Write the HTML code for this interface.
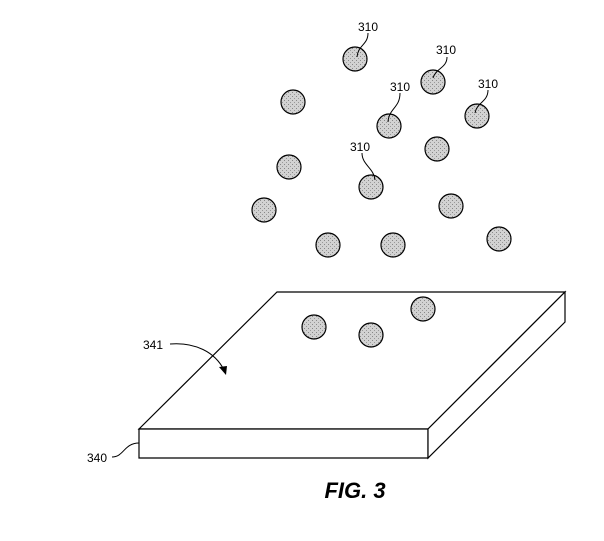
<!DOCTYPE html>
<html><head><style>body{margin:0;background:#fff}svg{display:block}</style></head><body>
<svg width="604" height="541" viewBox="0 0 604 541" xmlns="http://www.w3.org/2000/svg">
<defs>
<pattern id="st" width="4" height="4" patternUnits="userSpaceOnUse">
<rect width="4" height="4" fill="#d2d2d2"/>
<rect x="0" y="0" width="1" height="1" fill="#888"/>
<rect x="2" y="2" width="1" height="1" fill="#999"/>
</pattern>
</defs>
<g fill="url(#st)" stroke="#000" stroke-width="1.2">
<circle cx="355" cy="59" r="12"/>
<circle cx="433" cy="82" r="12"/>
<circle cx="293" cy="102" r="12"/>
<circle cx="389" cy="126" r="12"/>
<circle cx="477" cy="116" r="12"/>
<circle cx="437" cy="149" r="12"/>
<circle cx="289" cy="167" r="12"/>
<circle cx="371" cy="187" r="12"/>
<circle cx="264" cy="210" r="12"/>
<circle cx="451" cy="206" r="12"/>
<circle cx="328" cy="245" r="12"/>
<circle cx="393" cy="245" r="12"/>
<circle cx="499" cy="239" r="12"/>
</g>
<g fill="none" stroke="#000" stroke-width="1">
<path d="M368 33 C368 45 358 45 357 57"/>
<path d="M447 57 C447 68 436 68 433 78"/>
<path d="M400 93 C400 108 389 108 388 122"/>
<path d="M488 90 C488 102 477 102 475 113"/>
<path d="M362 153 C362 165 374 168 375 180"/>
</g>
<g font-family="Liberation Sans, sans-serif" font-size="12" fill="#000" text-anchor="middle">
<text x="368" y="31">310</text>
<text x="446" y="54">310</text>
<text x="400" y="91">310</text>
<text x="488" y="88">310</text>
<text x="360" y="151">310</text>
</g>
<g fill="#fff" stroke="#000" stroke-width="1.2" stroke-linejoin="miter">
<polygon points="277,292 565,292 428,429 139,429"/>
<polygon points="139,429 428,429 428,458 139,458"/>
<polygon points="428,429 565,292 565,322 428,458"/>
</g>
<g fill="url(#st)" stroke="#000" stroke-width="1.2">
<circle cx="314" cy="327" r="12"/>
<circle cx="371" cy="335" r="12"/>
<circle cx="423" cy="309" r="12"/>
</g>
<path d="M170 344 C195 342 215 352 224 370" fill="none" stroke="#000" stroke-width="1"/>
<path d="M226 375 L219 367 L227 366 Z" fill="#000"/>
<path d="M112 457 C124 457 124 443 139 443" fill="none" stroke="#000" stroke-width="1"/>
<g font-family="Liberation Sans, sans-serif" font-size="12" fill="#000">
<text x="143" y="349">341</text>
<text x="87" y="462">340</text>
</g>
<text x="355" y="498" font-family="Liberation Sans, sans-serif" font-size="22" font-weight="bold" font-style="italic" text-anchor="middle">FIG. 3</text>
</svg>
</body></html>
